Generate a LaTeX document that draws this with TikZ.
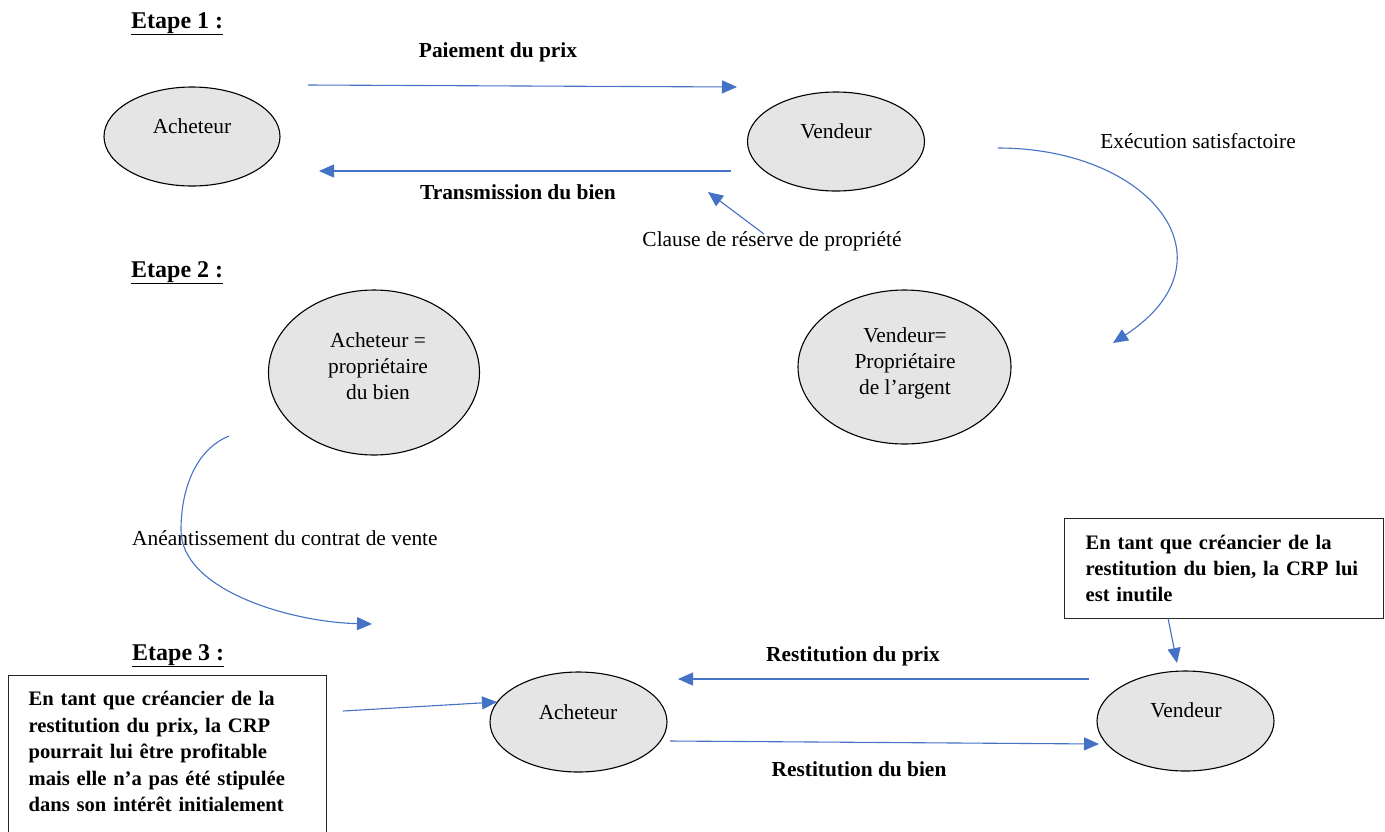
\documentclass[tikz,border=0pt]{standalone}
\usepackage{fontspec}
\setmainfont{Liberation Serif}
\usetikzlibrary{arrows.meta,shapes.geometric}
\definecolor{flux}{HTML}{4472C4}
\definecolor{fond}{gray}{0.9}
\tikzset{
  bulle/.style={ellipse, draw=black, line width=1.1pt, fill=fond, inner sep=0pt},
  fleche/.style={draw=flux, line width=1.1pt, -{Triangle[length=15pt,width=13pt]}},
  txt/.style={inner sep=0pt, font=\fontsize{21.4}{26}\selectfont},
  gras/.style={inner sep=0pt, font=\fontsize{21.4}{26}\selectfont\bfseries},
  etape/.style={inner sep=0pt, anchor=base west, font=\fontsize{24}{28}\selectfont\bfseries},
  encadre/.style={draw=black!85, line width=1.2pt, fill=white, anchor=north west,
    inner ysep=0pt, align=left, font=\fontsize{20.6}{26.5}\selectfont\bfseries}
}
\begin{document}
\begin{tikzpicture}[x=1pt,y=-1pt]
\useasboundingbox (0,0) rectangle (1385,831);

% ---------- Etape 1 ----------
\node[etape] (e1) at (131,28) {\underline{Etape 1 :}};

\node[bulle, minimum width=176pt, minimum height=99pt] (ach1) at (192,136.5) {};
\node[txt, anchor=base] (ach1t) at (192,133) {Acheteur};
\node[bulle, minimum width=177pt, minimum height=99pt] (ven1) at (836,141.5) {};
\node[txt, anchor=base] (ven1t) at (836,138) {Vendeur};

\coordinate (pay-s) at (308,85);
\coordinate (pay-e) at (737,87);
\draw[fleche] (pay-s) -- (pay-e);
\node[gras, anchor=base] (pay) at (498,57) {Paiement du prix};

\coordinate (tr-s) at (731,171);
\coordinate (tr-e) at (319,171);
\draw[fleche] (tr-s) -- (tr-e);
\node[gras, anchor=base] (tr) at (518,199) {Transmission du bien};

\node[txt, anchor=base] (crp) at (772,246) {Clause de réserve de propriété};
\coordinate (crp-s) at (764,234);
\coordinate (crp-e) at (708,192);
\draw[fleche] (crp-s) -- (crp-e);

\node[txt, anchor=base] (exe) at (1198,148) {Exécution satisfactoire};
\coordinate (exe-s) at (998,148);
\coordinate (exe-e) at (1113,343);
\draw[fleche] (exe-s) .. controls (1150,148) and (1240,260) .. (exe-e);

% ---------- Etape 2 ----------
\node[etape] (e2) at (131,277) {\underline{Etape 2 :}};

\node[bulle, minimum width=211pt, minimum height=165pt] (ach2) at (374,372.5) {};
\node[txt, anchor=base] (ach2t) at (378,347)
  {\begin{tabular}[t]{@{}c@{}}Acheteur =\\propriétaire\\du bien\end{tabular}};
\node[bulle, minimum width=213pt, minimum height=154pt] (ven2) at (904.5,367) {};
\node[txt, anchor=base] (ven2t) at (905,342)
  {\begin{tabular}[t]{@{}c@{}}Vendeur=\\Propriétaire\\de l’argent\end{tabular}};

\node[txt, anchor=base west] (ane) at (132,545) {Anéantissement du contrat de vente};
\coordinate (ane-s) at (229,436);
\coordinate (ane-m) at (181,530);
\coordinate (ane-e) at (372,624);
\draw[fleche] (ane-s) .. controls (195,450) and (181,490) .. (ane-m)
  .. controls (181,590) and (290,622) .. (ane-e);

% ---------- Etape 3 ----------
\node[etape] (e3) at (132,660) {\underline{Etape 3 :}};

\node[encadre, text width=278pt, inner xsep=20pt, text height=30pt, text depth=129pt]
  (box1) at (8,675)
  {En tant que créancier de la\\restitution du prix, la CRP\\pourrait lui être profitable\\mais elle n’a pas été stipulée\\dans son intérêt initialement};

\node[encadre, text width=277pt, inner xsep=21pt, text height=30.5pt, text depth=69.5pt,
  font=\fontsize{20.6}{26}\selectfont\bfseries]
  (box2) at (1064,518)
  {En tant que créancier de la\\\mbox{restitution du bien, la CRP lui}\\est inutile};

\node[bulle, minimum width=177pt, minimum height=100pt] (ach3) at (578.5,722) {};
\node[txt, anchor=base] (ach3t) at (578,719) {Acheteur};
\node[bulle, minimum width=177pt, minimum height=100pt] (ven3) at (1185.5,721) {};
\node[txt, anchor=base] (ven3t) at (1186,717) {Vendeur};

\coordinate (b1-s) at (343,711);
\coordinate (b1-e) at (497,702);
\draw[fleche] (b1-s) -- (b1-e);

\coordinate (b2-s) at (1168,618);
\coordinate (b2-e) at (1177,663);
\draw[fleche] (b2-s) -- (b2-e);

\coordinate (rp-s) at (1089,679);
\coordinate (rp-e) at (678,679);
\draw[fleche] (rp-s) -- (rp-e);
\node[gras, anchor=base] (rp) at (853,661) {Restitution du prix};

\coordinate (rb-s) at (670,741);
\coordinate (rb-e) at (1099,744);
\draw[fleche] (rb-s) -- (rb-e);
\node[gras, anchor=base] (rb) at (859,776) {Restitution du bien};
\end{tikzpicture}
\end{document}
